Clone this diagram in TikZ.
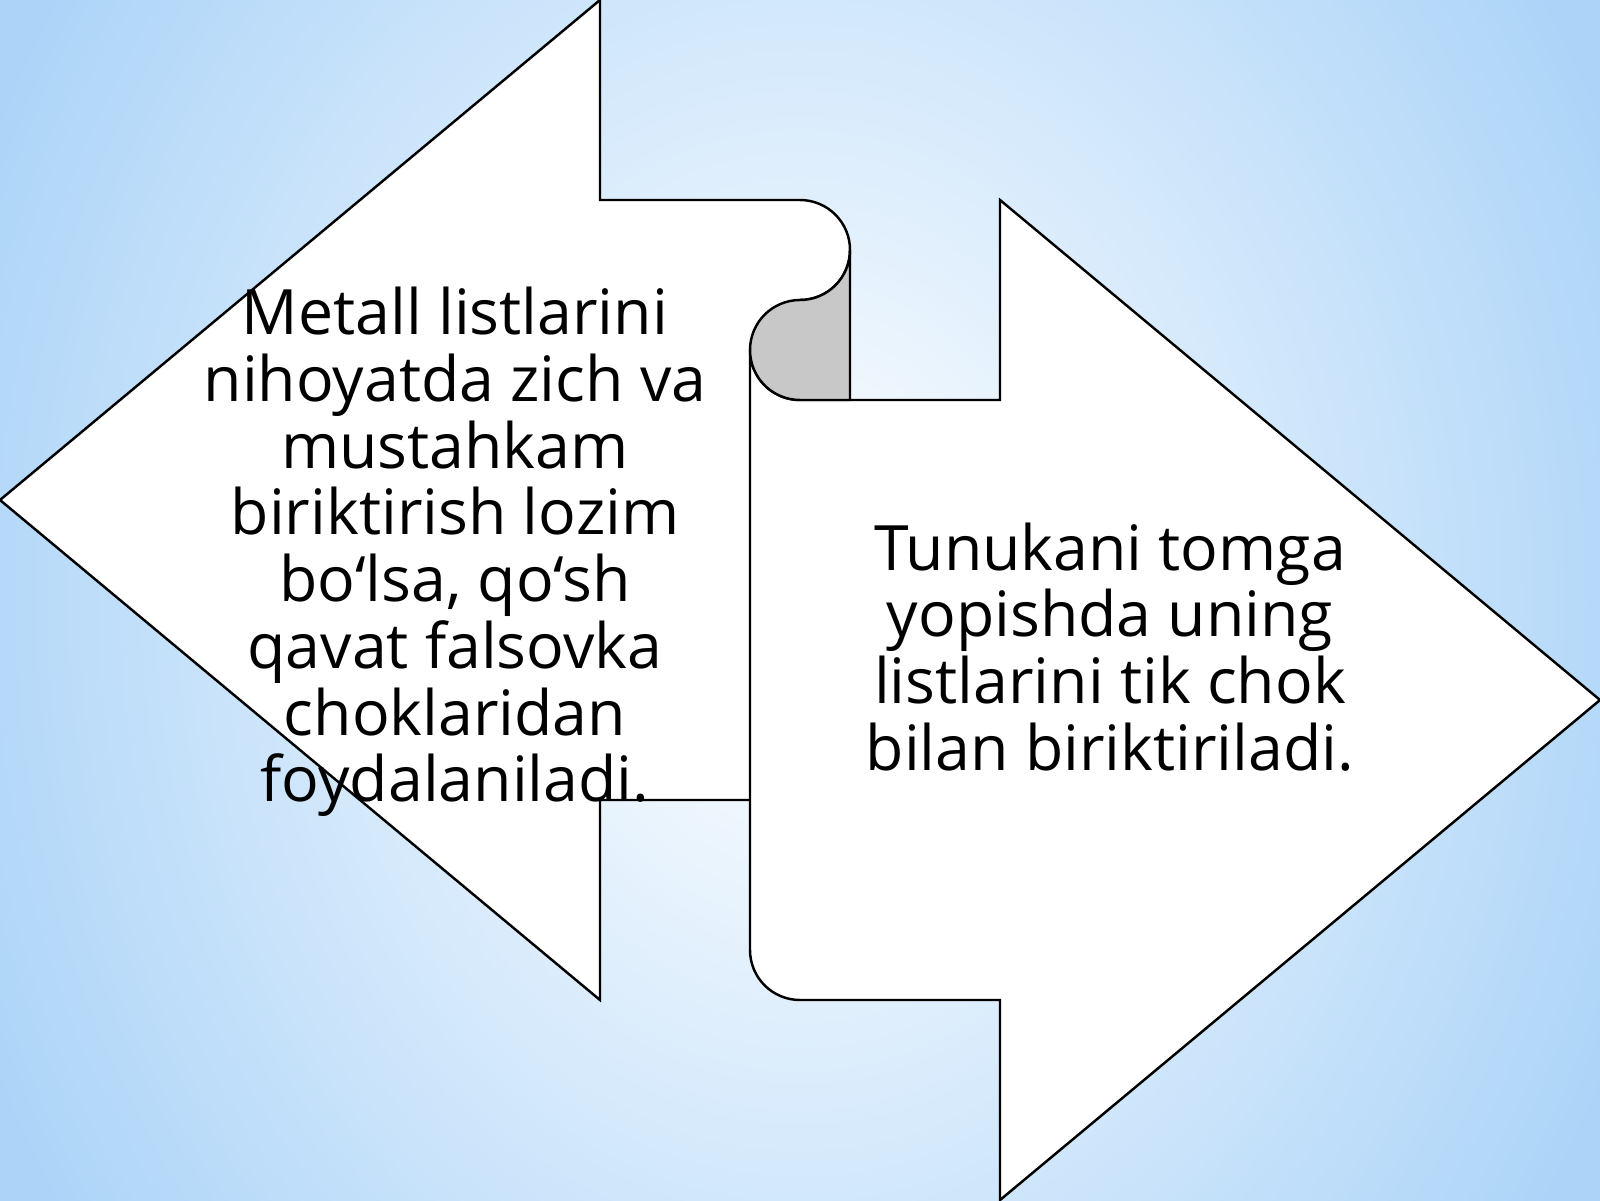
\documentclass[tikz,border=0pt]{standalone}
\usepackage{fontspec}
\setmainfont{Open Sans}
\usetikzlibrary{calc,shapes}
\definecolor{fondbleu}{RGB}{172,212,248}
\definecolor{pligris}{RGB}{200,200,200}
\tikzset{
	fleche/.style={draw=black,line width=0.7pt,fill=white,line join=miter},
	pli/.style={draw=black,line width=0.7pt,fill=pligris},
	texte/.style={align=center,font=\fontsize{17.8}{19}\selectfont,inner sep=0pt}
}
\begin{document}
\begin{tikzpicture}
				% Fond
				\useasboundingbox (0,0) rectangle (16,12);
				\shade[inner color=white,outer color=fondbleu] (-1,-5) rectangle (17,17);
				% Flèche gauche
				\draw [fleche] (0,7) -- (6,12) -- (6,10) -- (8,10) arc[start angle=90,end angle=-90,radius=0.5] -- (8,4) -- (6,4) -- (6,2) -- cycle;
				% Flèche droite
				\draw [fleche] (7.5,8.5) -- (7.5,2.5) arc[start angle=180,end angle=270,radius=0.5] -- (10,2) -- (10,0) -- (16,5) -- (10,10) -- (10,8) -- (8,8) arc[start angle=270,end angle=180,radius=0.5] -- cycle;
				% Pli
				\draw [pli] (8,9) arc[start angle=90,end angle=270,radius=0.5] -- (8.5,8) -- (8.5,9.5) arc[start angle=0,end angle=-90,radius=0.5] -- cycle;
				% Textes
				\node [texte] (texteG) at (4.55,6.48) {Metall listlarini\\nihoyatda zich va\\mustahkam\\biriktirish lozim\\bo‘lsa, qo‘sh\\qavat falsovka\\choklaridan\\foydalaniladi.};
				\node [texte] (texteD) at (11.1,5.53) {Tunukani tomga\\yopishda uning\\listlarini tik chok\\bilan biriktiriladi.};
\end{tikzpicture}
\end{document}
